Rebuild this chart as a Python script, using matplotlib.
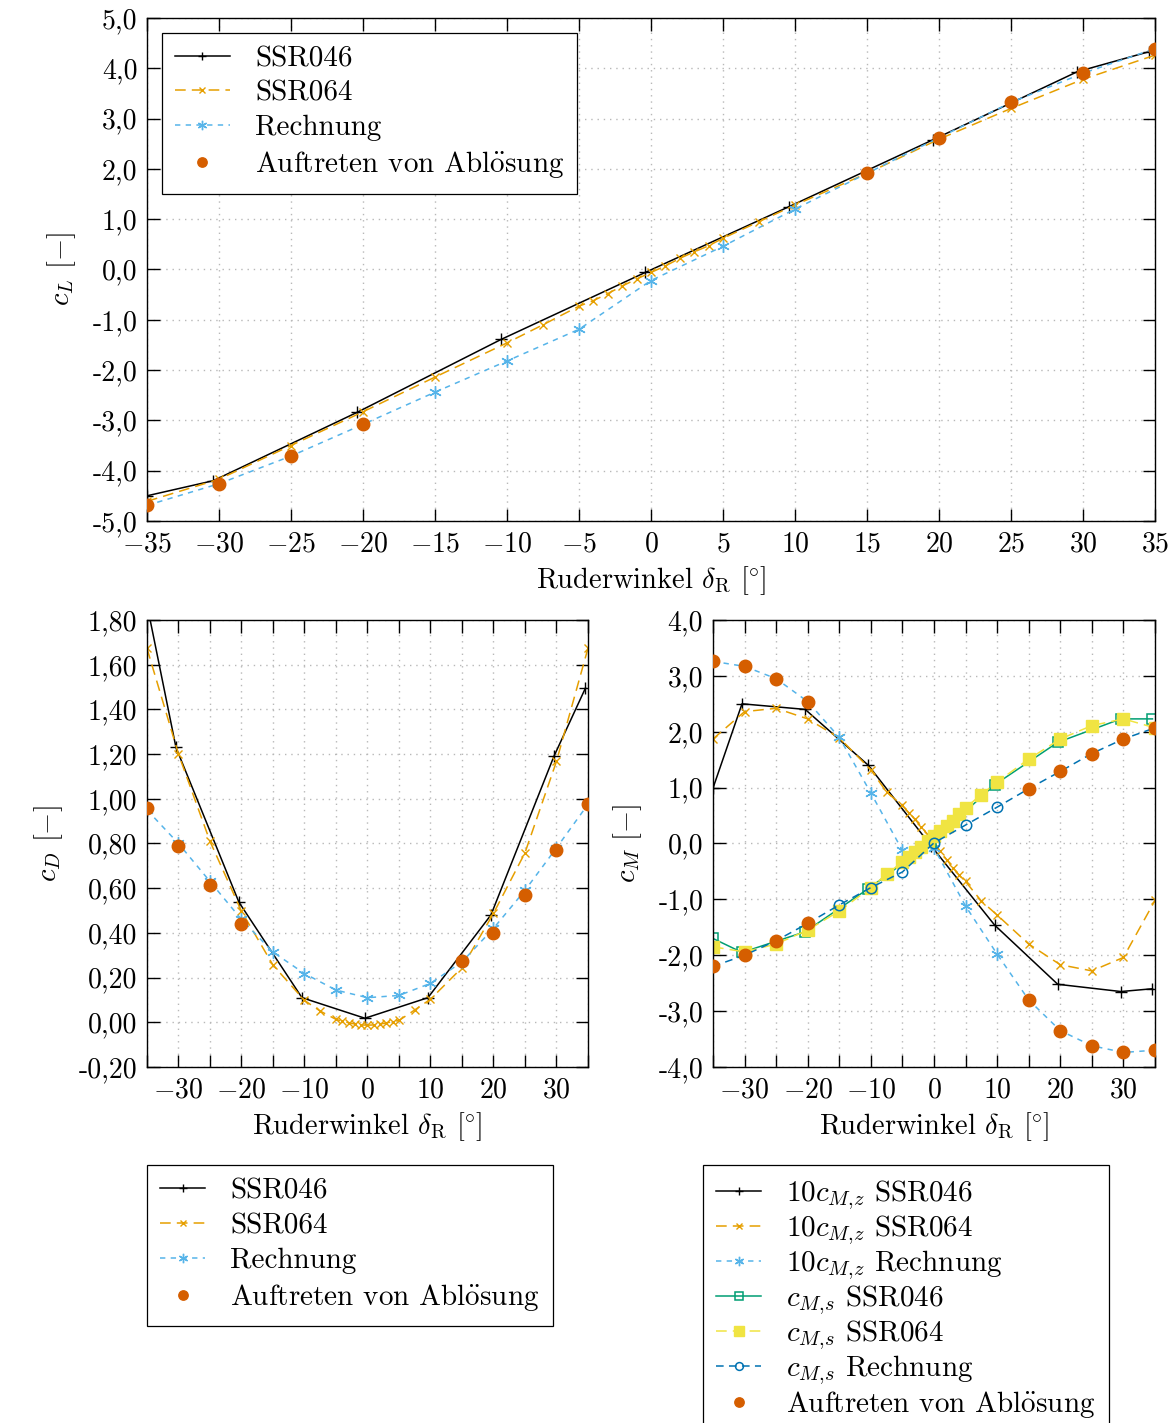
import numpy as np
import matplotlib
matplotlib.use("Agg")
import matplotlib.pyplot as plt

# Schrift wie im LaTeX-Dokument
plt.rcParams['font.family'] = ['cmr10', 'DejaVu Serif']
plt.rcParams['mathtext.fontset'] = 'cm'
plt.rcParams['axes.unicode_minus'] = False
plt.rcParams['axes.formatter.use_mathtext'] = True

# /// Ruderwinkel der Messreihen ///
d_046 = [-35, -30.4, -20.4, -10.4, -0.4, 9.6, 19.6, 29.6, 34.6]
d_064 = [-35, -30, -25, -20, -15, -10, -7.5, -5, -4, -3, -2, -1, 0,
         1, 2, 3, 4, 5, 7.5, 10, 15, 20, 25, 30, 35]
d_rech = [-35, -30, -25, -20, -15, -10, -5, 0, 5, 10, 15, 20, 25, 30, 35]
d_abl = [-35, -30, -25, -20, 15, 20, 25, 30, 35]

# /// Auftrieb cL ///
cl_046 = [-4.50, -4.20, -2.84, -1.39, -0.06, 1.25, 2.58, 3.93, 4.33]
cl_064 = [-4.61, -4.17, -3.50, -2.83, -2.14, -1.46, -1.10, -0.73, -0.62, -0.48,
          -0.33, -0.19, -0.06, 0.07, 0.22, 0.35, 0.47, 0.62, 0.95, 1.28,
          1.91, 2.59, 3.20, 3.78, 4.26]
cl_rech = [-4.69, -4.26, -3.71, -3.08, -2.44, -1.82, -1.19, -0.22, 0.46, 1.20,
           1.91, 2.62, 3.32, 3.90, 4.39]
cl_abl = [-4.69, -4.26, -3.71, -3.08, 1.91, 2.62, 3.32, 3.90, 4.39]

# /// Widerstand cD ///
cd_046 = [1.87, 1.23, 0.537, 0.11, 0.018, 0.11, 0.48, 1.19, 1.495]
cd_064 = [1.673, 1.20, 0.81, 0.497, 0.256, 0.098, 0.05, 0.013, 0.005, -0.002,
          -0.008, -0.012, -0.013, -0.012, -0.008, -0.003, 0.003, 0.008, 0.055,
          0.103, 0.244, 0.487, 0.758, 1.167, 1.673]
cd_rech = [0.95, 0.80, 0.63, 0.46, 0.314, 0.218, 0.144, 0.11, 0.12, 0.174,
           0.27, 0.42, 0.59, 0.78, 0.975]
cd_abl = [0.959, 0.787, 0.616, 0.44, 0.274, 0.40, 0.571, 0.772, 0.978]

# /// Momente: 10*cM,z und cM,s ///
cmz_046 = [0.99, 2.50, 2.40, 1.40, -0.05, -1.46, -2.52, -2.65, -2.60]
cmz_064 = [1.87, 2.36, 2.42, 2.23, 1.89, 1.32, 0.92, 0.68, 0.55, 0.43, 0.30,
           0.16, 0.01, -0.14, -0.29, -0.43, -0.57, -0.68, -1.03, -1.28, -1.80,
           -2.17, -2.28, -2.04, -1.02]
cmz_rech = [3.26, 3.17, 2.95, 2.54, 1.90, 0.905, -0.125, -0.08, -1.12, -1.98,
            -2.80, -3.35, -3.62, -3.74, -3.70]
cmz_abl = [3.26, 3.17, 2.95, 2.54, -2.80, -3.35, -3.62, -3.74, -3.70]

cms_046 = [-1.70, -1.95, -1.58, -0.81, 0.02, 1.05, 1.81, 2.23, 2.23]
cms_064 = [-1.85, -1.94, -1.80, -1.55, -1.21, -0.79, -0.55, -0.33, -0.24, -0.15,
           -0.06, 0.04, 0.13, 0.22, 0.31, 0.41, 0.52, 0.64, 0.875, 1.10, 1.51,
           1.87, 2.11, 2.23, 2.07]
cms_rech = [-2.20, -2.00, -1.74, -1.43, -1.10, -0.79, -0.51, 0.01, 0.33, 0.65,
            0.98, 1.29, 1.61, 1.87, 2.07]
cms_abl = [-2.20, -2.00, -1.74, -1.43, 0.98, 1.29, 1.61, 1.87, 2.07]

# Farben
schwarz = 'black'
orange = '#E69F00'
hellblau = '#56B4E9'
gruen = '#009E73'
gelb = '#F0E442'
blau = '#0072B2'
rot = '#D55E00'

fs_tick = 20
fs_lab = 20.5
fs_leg = 21
xlab = r'Ruderwinkel $\delta_\mathrm{R}$ [$\!^\circ\!$]'
abl = r'Auftreten von Abl$\mathrm{\ddot{o}}$sung'
stern = (6, 2, 0)   # Asterisk mit drei Strichen

fig = plt.figure(figsize=(11.74, 14.23), dpi=100)
ax1 = fig.add_axes([0.1252, 0.6339, 0.8586, 0.3535])
ax2 = fig.add_axes([0.1252, 0.2502, 0.3756, 0.3141])
ax3 = fig.add_axes([0.6073, 0.2502, 0.3765, 0.3141])


def achsen(ax):
    ax.tick_params(direction='in', length=9, width=1, top=True, right=True,
                   labelsize=fs_tick, pad=7)
    for s in ax.spines.values():
        s.set_linewidth(1.0)
    ax.grid(True, color='#b8b8b8', lw=1, linestyle=(0, (1, 3.5)))
    ax.set_axisbelow(True)
    ax.set_xlim(-35, 35)


def xlabels(ax, labels):
    ax.set_xticks(np.arange(-35, 36, 5))
    ax.set_xticklabels(labels)


def fmt(v, n):
    return f'{v:.{n}f}'.replace('.', ',')


def legende(ax, handles, pos, hl, ls):
    kw = dict(fontsize=fs_leg, fancybox=False, edgecolor='black', framealpha=1,
              handlelength=hl, handletextpad=0.85, labelspacing=ls,
              borderpad=0.45, markerscale=0.75)
    if pos is None:
        leg = ax.legend(handles=handles, loc='upper left', borderaxespad=0.5, **kw)
    else:
        leg = ax.legend(handles=handles, loc='upper left', bbox_to_anchor=pos,
                        bbox_transform=fig.transFigure, borderaxespad=0, **kw)
    leg.get_frame().set_linewidth(0.9)
    return leg


# ---- cL ----
ax = ax1
achsen(ax)
h1, = ax.plot(d_046, cl_046, color=schwarz, lw=1.1, marker='+', ms=8, mew=1, label='SSR046')
h2, = ax.plot(d_064, cl_064, color=orange, lw=1.1, ls=(0, (7, 4)), marker='x', ms=6, mew=1, label='SSR064')
h3, = ax.plot(d_rech, cl_rech, color=hellblau, lw=1.1, ls=(0, (3.5, 3.5)), marker=stern, ms=9, mew=1, label='Rechnung')
h4, = ax.plot(d_abl, cl_abl, ls='none', marker='o', ms=9, color=rot, label=abl, zorder=5)
ax.set_ylim(-5, 5)
yt = np.arange(-5, 5.01, 1.0)
ax.set_yticks(yt)
ax.set_yticklabels([fmt(v, 1) for v in yt])
xlabels(ax, [f'${v}$' for v in range(-35, 36, 5)])
ax.set_xlabel(xlab, fontsize=fs_lab, labelpad=5)
ax.set_ylabel(r'$c_L$ [$-$]', fontsize=fs_lab, labelpad=10)
legende(ax, [h1, h2, h3, h4], None, 1.9, 0.28)

# ---- cD ----
ax = ax2
achsen(ax)
h1, = ax.plot(d_046, cd_046, color=schwarz, lw=1.1, marker='+', ms=8, mew=1, label='SSR046')
h2, = ax.plot(d_064, cd_064, color=orange, lw=1.1, ls=(0, (7, 4)), marker='x', ms=6, mew=1, label='SSR064')
h3, = ax.plot(d_rech, cd_rech, color=hellblau, lw=1.1, ls=(0, (3.5, 3.5)), marker=stern, ms=9, mew=1, label='Rechnung')
h4, = ax.plot(d_abl, cd_abl, ls='none', marker='o', ms=9, color=rot, label=abl, zorder=5)
ax.set_ylim(-0.2, 1.8)
yt = np.arange(-0.2, 1.801, 0.2)
ax.set_yticks(yt)
ax.set_yticklabels([fmt(v, 2) for v in yt])
xlabels(ax, [f'${v}$' if v % 10 == 0 else '' for v in range(-35, 36, 5)])
ax.set_xlabel(xlab, fontsize=fs_lab, labelpad=5)
ax.set_ylabel(r'$c_D$ [$-$]', fontsize=fs_lab, labelpad=10)
legende(ax, [h1, h2, h3, h4], (147 / 1174, 1 - 1165 / 1423), 1.55, 0.28)

# ---- cM ----
ax = ax3
achsen(ax)
g1, = ax.plot(d_046, cmz_046, color=schwarz, lw=1.1, marker='+', ms=8, mew=1, label=r'$10c_{M{,}z}$ SSR046')
g2, = ax.plot(d_064, cmz_064, color=orange, lw=1.1, ls=(0, (7, 4)), marker='x', ms=6, mew=1, label=r'$10c_{M{,}z}$ SSR064')
g3, = ax.plot(d_rech, cmz_rech, color=hellblau, lw=1.1, ls=(0, (3.5, 3.5)), marker=stern, ms=9, mew=1, label=r'$10c_{M{,}z}$ Rechnung')
g4, = ax.plot(d_046, cms_046, color=gruen, lw=1.1, marker='s', ms=7.5, mfc='none', mew=1.1, label=r'$c_{M{,}s}$ SSR046')
g5, = ax.plot(d_064, cms_064, color=gelb, lw=1.1, ls=(0, (7, 4)), marker='s', ms=9, label=r'$c_{M{,}s}$ SSR064')
g6, = ax.plot(d_rech, cms_rech, color=blau, lw=1.1, ls=(0, (5, 3.5)), marker='o', ms=7.5, mfc='none', mew=1.1, label=r'$c_{M{,}s}$ Rechnung')
g7, = ax.plot(d_abl, cmz_abl, ls='none', marker='o', ms=9, color=rot, label=abl, zorder=5)
ax.plot(d_abl, cms_abl, ls='none', marker='o', ms=9, color=rot, zorder=5)
ax.set_ylim(-4, 4)
yt = np.arange(-4, 4.01, 1.0)
ax.set_yticks(yt)
ax.set_yticklabels([fmt(v, 1) for v in yt])
xlabels(ax, [f'${v}$' if v % 10 == 0 else '' for v in range(-35, 36, 5)])
ax.set_xlabel(xlab, fontsize=fs_lab, labelpad=5)
ax.set_ylabel(r'$c_M$ [$-$]', fontsize=fs_lab, labelpad=10)
legende(ax, [g1, g2, g3, g4, g5, g6, g7], (703 / 1174, 1 - 1165 / 1423), 1.55, 0.05)

fig.savefig('out.png', dpi=100)
